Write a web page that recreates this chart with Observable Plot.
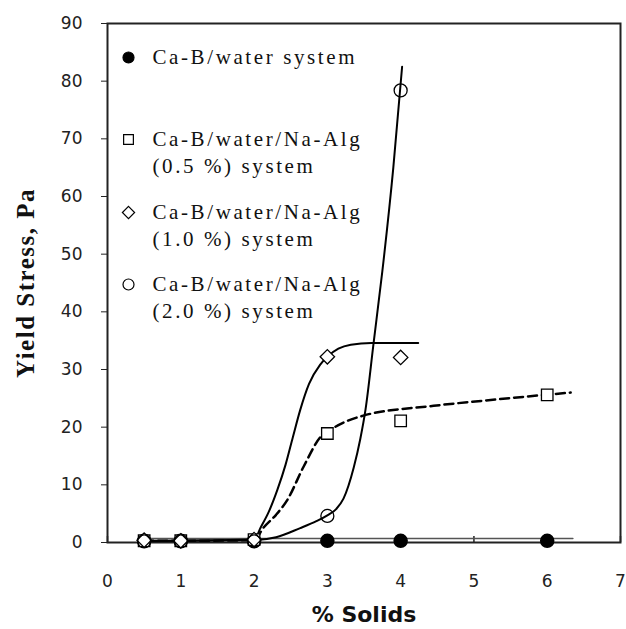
<!DOCTYPE html>
<html><head><meta charset="utf-8">
<script src="https://cdn.jsdelivr.net/npm/d3@7"></script>
<script src="https://cdn.jsdelivr.net/npm/@observablehq/plot@0.6"></script>
<style>
body{margin:0;background:#fff;}
g[font-family^="Liberation Serif, Times"]{letter-spacing:2.6px;}
g[font-family^="Liberation Serif, serif"]{letter-spacing:1.5px;}
</style></head>
<body><div id="chart"></div>
<script>
const xTicks = [0,1,2,3,4,5,6,7];
const yTicks = [0,10,20,30,40,50,60,70,80,90];

// measured points
const waterX = [0.5,1,2,3,4,6];
const waterY = [0.3,0.3,0.3,0.3,0.3,0.3];
const alg05X = [0.5,1,2,3,4,6];
const alg05Y = [0.3,0.3,0.5,18.9,21.1,25.6];
const alg10X = [0.5,1,2,3,4];
const alg10Y = [0.4,0.3,0.5,32.2,32.1];
const alg20X = [0.5,1,2,3,4];
const alg20Y = [0.2,0.2,0.2,4.6,78.4];

// fitted curves
const fitWaterX = [0.5,6.35];
const fitWaterY = [0.7,0.7];
const fit05X = [0.5,1,2,2.13,2.3,2.45,2.67,2.9,3.1,3.49,4.45,5.3,6.32];
const fit05Y = [0.3,0.3,0.4,2.6,4.8,7.3,13,18.2,20,22,23.7,24.8,26];
const fit10X = [0.5,1,2,2.09,2.2,2.32,2.43,2.53,2.63,2.75,2.9,3,3.15,3.32,3.6,4.24];
const fit10Y = [0.3,0.3,0.5,2.6,5.3,9.2,13.5,18.3,23,27.5,30.8,32.2,33.6,34.3,34.6,34.6];
const fit20X = [0.5,1,2,2.3,2.63,2.85,3,3.12,3.22,3.36,3.45,3.52,3.63,3.75,3.9,4.02];
const fit20Y = [0.2,0.3,0.4,0.9,2.5,3.7,4.7,5.8,7.6,13,18,23,34.5,47,65,82.5];

const legendFirst = ["Ca-B/water system","Ca-B/water/Na-Alg","Ca-B/water/Na-Alg","Ca-B/water/Na-Alg"];
const legendSecond = ["","(0.5 %) system","(1.0 %) system","(2.0 %) system"];
const legendSymbols = ["circle","square","diamond2","circle"];
const legendFills = ["black","white","white","white"];

const xTitle = "% Solids";
const yTitle = "Yield Stress, Pa";

const pts = (xs, ys) => xs.map((x,i)=>({x, y: ys[i]}));

const W = 626, H = 629, mL = 107, mR = 6, mT = 23, mB = 87;
const legendRowDy = [34, 116, 189, 261];
const legendFont = "Liberation Serif, Times New Roman, serif";

const marks = [
  Plot.axisY(yTicks, {anchor:"left", label:null, tickSize:6, tickPadding:19, fontSize:17, fontFamily:"DejaVu Sans", fill:"#222", stroke:"#222"}),
  Plot.axisX(xTicks, {anchor:"bottom", label:null, tickSize:0, tickPadding:32, fontSize:17, fontFamily:"DejaVu Sans", fill:"#222"}),
  Plot.tickX(xTicks, {x:d=>d, insetTop: H-mT-mB-6, stroke:"#222", strokeWidth:1.5}),
  Plot.frame({stroke:"#222", strokeWidth:2}),
  Plot.line(pts(fitWaterX, fitWaterY), {x:"x", y:"y", stroke:"#555", strokeWidth:1.5}),
  Plot.line(pts(fit05X, fit05Y), {x:"x", y:"y", curve:"monotone-x", stroke:"black", strokeWidth:2.5, strokeDasharray:"9,5"}),
  Plot.line(pts(fit10X, fit10Y), {x:"x", y:"y", curve:"monotone-x", stroke:"black", strokeWidth:2}),
  Plot.line(pts(fit20X, fit20Y), {x:"x", y:"y", curve:"monotone-x", stroke:"black", strokeWidth:2}),
  Plot.dot(pts(waterX, waterY), {x:"x", y:"y", symbol:"circle", r:6.5, fill:"black", stroke:"black"}),
  Plot.dot(pts(alg05X, alg05Y), {x:"x", y:"y", symbol:"square", r:6.5, fill:"white", stroke:"black", strokeWidth:1.3}),
  Plot.dot(pts(alg10X, alg10Y), {x:"x", y:"y", symbol:"diamond2", r:6.5, fill:"white", stroke:"black", strokeWidth:1.3}),
  Plot.dot(pts(alg20X, alg20Y), {x:"x", y:"y", symbol:"circle", r:6.5, fill:"white", fillOpacity:0, stroke:"black", strokeWidth:1.3}),
  // titles
  Plot.text([yTitle], {text:d=>d, frameAnchor:"left", dx:-82, textAnchor:"middle", rotate:-90, fontSize:25, fontWeight:"bold", fontFamily:"Liberation Serif, serif", fill:"#111"}),
  Plot.text([xTitle], {text:d=>d, frameAnchor:"bottom", dy:79, fontSize:22, fontWeight:"bold", fontFamily:"DejaVu Sans", fill:"#111"})
];

legendFirst.forEach((t,i)=>{
  marks.push(Plot.dot([0], {frameAnchor:"top-left", dx:21, dy:legendRowDy[i], symbol:legendSymbols[i], r:5.5, fill:legendFills[i], stroke:"black", strokeWidth:1.2}));
  marks.push(Plot.text([t], {text:d=>d, frameAnchor:"top-left", dx:45, dy:legendRowDy[i], textAnchor:"start", lineAnchor:"middle", fontSize:21, fontFamily:legendFont, fill:"#111"}));
  if (legendSecond[i]) marks.push(Plot.text([legendSecond[i]], {text:d=>d, frameAnchor:"top-left", dx:45, dy:legendRowDy[i]+27, textAnchor:"start", lineAnchor:"middle", fontSize:21, fontFamily:legendFont, fill:"#111"}));
});

const chart = Plot.plot({
  width: W, height: H,
  marginLeft: mL, marginRight: mR, marginTop: mT, marginBottom: mB,
  x: {domain:[0,7], axis:null},
  y: {domain:[0,90], axis:null},
  style: {background:"white", overflow:"visible"},
  marks
});
document.getElementById("chart").appendChild(chart);
</script></body></html>
